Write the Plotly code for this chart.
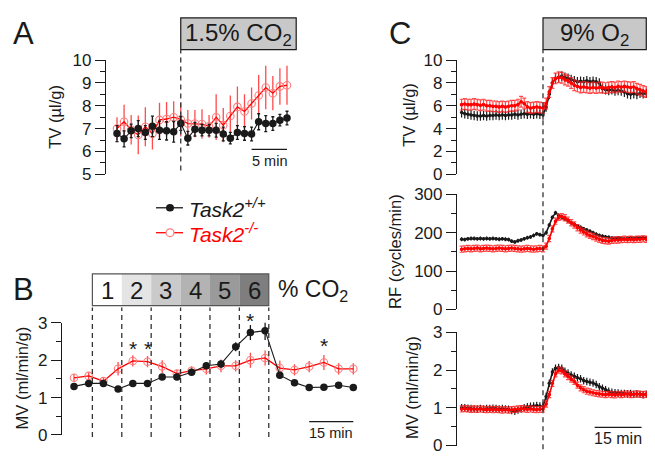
import plotly.graph_objects as go

W, H = 655, 460
OFF = 8  # page body margin of the html page

# ---------------- Panel A : TV during 1.5% CO2 ----------------
a_time = list(range(-9, 16))
a_tv_wt = [6.78, 6.55, 6.9, 7.0, 6.83, 7.1, 6.93, 6.9, 6.86, 7.22, 6.58, 6.97, 6.93,
           6.93, 6.93, 6.76, 6.58, 6.83, 6.79, 6.76, 7.3, 7.22, 7.22, 7.37, 7.46]
a_tv_wt_err = [0.35, 0.35, 0.3, 0.35, 0.3, 0.45, 0.4, 0.4, 0.45, 0.3, 0.3, 0.3, 0.25,
               0.25, 0.3, 0.3, 0.25, 0.3, 0.3, 0.3, 0.35, 0.35, 0.3, 0.25, 0.3]
a_tv_ko = [7.0, 7.3, 6.95, 6.72, 7.08, 6.78, 7.38, 7.42, 7.5, 7.4, 7.22, 7.22, 7.2,
           7.1, 7.5, 7.15, 7.55, 7.95, 7.75, 8.1, 8.45, 8.8, 8.55, 8.85, 8.9]
a_tv_ko_err = [0.5, 0.75, 0.65, 0.85, 0.85, 0.7, 0.75, 0.75, 0.7, 0.75, 0.6, 0.6, 0.65,
               0.5, 1.0, 0.75, 0.9, 0.9, 0.75, 0.7, 0.9, 0.95, 0.75, 0.8, 0.85]

# ---------------- Panel B : MV, graded CO2 ----------------
b_time = [0, 5, 10, 15, 20, 25, 30, 35, 40, 45, 50, 55, 60, 65, 70, 75, 80, 85, 90, 95]
b_mv_wt = [1.3, 1.38, 1.38, 1.23, 1.38, 1.38, 1.55, 1.55, 1.68, 1.85, 1.9, 2.36, 2.74,
           2.79, 1.6, 1.4, 1.27, 1.28, 1.33, 1.27]
b_mv_wt_err = [0.05, 0.05, 0.05, 0.05, 0.05, 0.05, 0.05, 0.06, 0.08, 0.08, 0.1, 0.12,
               0.2, 0.25, 0.08, 0.06, 0.05, 0.05, 0.05, 0.05]
b_mv_ko = [1.53, 1.58, 1.44, 1.77, 1.98, 1.96, 1.83, 1.64, 1.72, 1.77, 1.85, 1.85, 2.0,
           2.06, 1.79, 1.74, 1.83, 1.94, 1.77, 1.77]
b_mv_ko_err = [0.1, 0.1, 0.1, 0.18, 0.15, 0.15, 0.17, 0.1, 0.12, 0.15, 0.17, 0.15, 0.2,
               0.2, 0.2, 0.15, 0.15, 0.2, 0.15, 0.15]
b_co2_levels = ["1", "2", "3", "4", "5", "6"]
b_level_edges = [6.25, 16.25, 26.25, 36.25, 46.25, 56.25, 66.25]
b_level_colors = ["#ffffff", "#e4e4e4", "#cacaca", "#b3b3b3", "#9a9a9a", "#7e7e7e"]
b_star_times = [20, 25, 60, 85]
b_star_values = [2.3, 2.3, 3.05, 2.4]

# ---------------- Panel C : 9% O2 hypoxia ----------------
c_time = list(range(-26, 34))
c_tv_wt = [5.4, 5.3, 5.25, 5.2, 5.15, 5.1, 5.1, 5.15, 5.1, 5.15, 5.15, 5.2, 5.15, 5.2,
           5.15, 5.2, 5.2, 5.25, 5.2, 5.25, 5.3, 5.25, 5.3, 5.25, 5.3, 5.25, 5.2,
           5.9, 7.0, 8.0, 8.4, 8.5, 8.6, 8.5, 8.4, 8.3, 8.2, 8.1, 8.15, 8.1, 8.2, 8.1,
           8.15, 8.1, 8.0, 7.5, 7.4, 7.35, 7.4, 7.3, 7.35, 7.3, 7.2, 7.05, 7.0, 7.05,
           7.0, 7.1, 7.05, 7.1]
c_tv_ko = [6.1, 6.15, 6.1, 6.1, 6.15, 6.1, 6.05, 6.1, 6.0, 6.0, 5.95, 5.95, 5.9, 5.95,
           5.9, 5.95, 6.0, 6.0, 6.1, 6.35, 6.2, 5.9, 5.8, 5.85, 5.9, 5.85, 5.8,
           6.2, 7.2, 8.0, 8.4, 8.5, 8.45, 8.3, 8.2, 8.0, 7.8, 7.7, 7.6, 7.65, 7.6, 7.55,
           7.6, 7.55, 7.6, 7.6, 7.55, 7.6, 7.65, 7.6, 7.7, 7.65, 7.7, 7.65, 7.6, 7.65,
           7.5, 7.4, 7.3, 7.2]
c_rf_wt = [183, 182, 184, 185, 185, 184, 185, 184, 185, 184, 185, 184, 183, 184, 183,
           182, 178, 176, 179, 181, 184, 187, 189, 193, 197, 195, 193,
           200, 220, 240, 252, 245, 240, 236, 231, 226, 222, 218, 214, 210, 207, 204,
           200, 196, 193, 191, 189, 188, 186, 185, 186, 185, 184, 185, 186, 185, 186,
           186, 187, 186]
c_rf_ko = [157, 158, 159, 158, 159, 160, 158, 159, 160, 159, 158, 159, 160, 159, 158,
           159, 160, 159, 158, 157, 158, 159, 158, 157, 158, 159, 158,
           165, 185, 210, 230, 240, 242, 239, 233, 226, 220, 213, 207, 202, 197, 193,
           190, 186, 183, 180, 179, 178, 180, 181, 181, 182, 183, 182, 183, 182, 183,
           183, 184, 183]
c_mv_wt = [1.0, 1.0, 0.99, 0.98, 0.97, 0.97, 0.98, 0.97, 0.98, 0.98, 0.99, 0.98, 0.97,
           0.98, 0.97, 0.96, 0.93, 0.91, 0.94, 0.97, 1.0, 1.03, 1.04, 1.05, 1.06, 1.05,
           1.04, 1.3, 1.65, 1.95, 2.05, 2.07, 2.05, 1.97, 1.92, 1.87, 1.84, 1.8, 1.77,
           1.72, 1.7, 1.68, 1.66, 1.62, 1.56, 1.52, 1.48, 1.44, 1.41, 1.4, 1.39, 1.38,
           1.38, 1.37, 1.38, 1.36, 1.37, 1.36, 1.35, 1.36]
c_mv_ko = [0.97, 0.98, 0.97, 0.96, 0.97, 0.96, 0.97, 0.96, 0.95, 0.96, 0.95, 0.96, 0.95,
           0.94, 0.95, 0.94, 0.95, 0.96, 0.97, 0.98, 0.97, 0.96, 0.97, 0.96, 0.95, 0.96,
           0.97, 1.1, 1.35, 1.65, 1.9, 2.0, 1.98, 1.9, 1.83, 1.76, 1.7, 1.6, 1.53, 1.48,
           1.44, 1.42, 1.4, 1.38, 1.37, 1.36, 1.35, 1.36, 1.35, 1.34, 1.36, 1.35, 1.36,
           1.37, 1.35, 1.36, 1.37, 1.36, 1.35, 1.36]
c_tv_wt_err, c_tv_ko_err = 0.42, 0.47
c_rf_wt_err, c_rf_ko_err = 5, 8
c_mv_wt_err, c_mv_ko_err = 0.1, 0.08

series_names = ["Task2<sup>+/+</sup>", "Task2<sup>-/-</sup>"]

# ---------------- styling ----------------
FONT = "Arial, Liberation Sans, Helvetica, sans-serif"
INK = "#1a1a1a"
BLACK = "#1a1a1a"
RED = "#ff0000"
RED_ERR = "rgba(255,30,30,0.8)"
RED_MK = "#ff7a7a"
DASH = "5px,4px"
TICK_SIZE = 17
TITLE_SIZE = 16.5


def px(x):
    return (x - OFF) / W


def py(y):
    return 1 - (y - OFF) / H


fig = go.Figure()


def err_spec(err, color, cap):
    if isinstance(err, list):
        return dict(type="data", array=err, color=color, thickness=1.3, width=cap)
    return dict(type="constant", value=err, color=color, thickness=1.2, width=cap)


def add_series(x, y, err, xa, ya, kind, big=True, cap=0):
    if kind == "wt":
        fig.add_trace(go.Scatter(
            x=x, y=y, xaxis=xa, yaxis=ya, mode="lines+markers", name=series_names[0],
            line=dict(color=BLACK, width=1.1 if big else 1.6),
            marker=dict(color=BLACK, size=7.5 if big else 3.5, line=dict(width=0)),
            error_y=err_spec(err, BLACK, cap), showlegend=False, cliponaxis=False))
    else:
        fig.add_trace(go.Scatter(
            x=x, y=y, xaxis=xa, yaxis=ya, mode="lines+markers", name=series_names[1],
            line=dict(color=RED, width=1.3 if big else 1.6),
            marker=dict(symbol="circle-open" if big else "circle",
                        color=RED_MK if big else RED,
                        size=7.5 if big else 2.5,
                        line=dict(width=1.1, color=RED_MK if big else RED)),
            error_y=err_spec(err, RED_ERR, cap), showlegend=False, cliponaxis=False))


# Panel A (red under black)
add_series(a_time, a_tv_ko, a_tv_ko_err, "x", "y", "ko")
add_series(a_time, a_tv_wt, a_tv_wt_err, "x", "y", "wt", cap=1.5)
# Panel B
add_series(b_time, b_mv_ko, b_mv_ko_err, "x2", "y2", "ko")
add_series(b_time, b_mv_wt, b_mv_wt_err, "x2", "y2", "wt")
# Panel C
add_series(c_time, c_tv_wt, c_tv_wt_err, "x3", "y3", "wt", big=False)
add_series(c_time, c_tv_ko, c_tv_ko_err, "x3", "y3", "ko", big=False, cap=2)
add_series(c_time, c_rf_wt, c_rf_wt_err, "x4", "y4", "wt", big=False)
add_series(c_time, c_rf_ko, c_rf_ko_err, "x4", "y4", "ko", big=False, cap=2)
add_series(c_time, c_mv_wt, c_mv_wt_err, "x5", "y5", "wt", big=False)
add_series(c_time, c_mv_ko, c_mv_ko_err, "x5", "y5", "ko", big=False, cap=2)


def yax(dom_px, rng, dtick, mdtick, anchor):
    return dict(domain=[py(dom_px[0]), py(dom_px[1])], range=rng, showline=True,
                linecolor=INK, linewidth=1.2, ticks="outside", ticklen=10, tickwidth=1.2,
                tickcolor=INK, dtick=dtick, tick0=0, showgrid=False, zeroline=False,
                tickfont=dict(family=FONT, size=TICK_SIZE, color=INK), anchor=anchor,
                minor=dict(ticks="outside", ticklen=5, tickwidth=1.2, tickcolor=INK,
                           dtick=mdtick, showgrid=False),
                fixedrange=True)


def xax(dom_px, rng, anchor):
    return dict(domain=[px(dom_px[0]), px(dom_px[1])], range=rng, visible=False,
                fixedrange=True, anchor=anchor)


fig.update_layout(
    width=W, height=H, margin=dict(l=0, r=0, t=0, b=0),
    paper_bgcolor="white", plot_bgcolor="rgba(0,0,0,0)",
    font=dict(family=FONT, color=INK),
    xaxis=xax((106, 300), [-10.553, 16.836], "y"),
    yaxis=yax((172, 53), [5, 10], 1, 0.5, "x"),
    xaxis2=xax((62, 360), [-4.082, 97.28], "y2"),
    yaxis2=yax((444, 327), [0, 3], 1, 0.5, "x2"),
    xaxis3=xax((457, 650), [-27.48, 34.19], "y3"),
    yaxis3=yax((172, 53), [0, 10], 2, 1, "x3"),
    xaxis4=xax((457, 650), [-27.48, 34.19], "y4"),
    yaxis4=yax((313, 193), [0, 300], 100, 50, "x4"),
    xaxis5=xax((457, 650), [-27.48, 34.19], "y5"),
    yaxis5=yax((455, 337), [0, 3], 1, 0.5, "x5"),
)

shapes = []
# Panel A stimulus box, dashed line, scale bar
shapes.append(dict(type="rect", xref="x", yref="paper", x0=0, x1=16.3, y0=py(42), y1=py(9),
                   fillcolor="#c8c8c8", line=dict(color=INK, width=1.2), layer="below"))
shapes.append(dict(type="line", xref="x", yref="paper", x0=0, x1=0, y0=py(168), y1=py(42),
                   line=dict(color="#333", width=1.3, dash=DASH)))
shapes.append(dict(type="line", xref="x", yref="paper", x0=10, x1=15, y0=py(146), y1=py(146),
                   line=dict(color=INK, width=1.3)))
# Panel B CO2 cells
for i in range(6):
    shapes.append(dict(type="rect", xref="x2", yref="paper", x0=b_level_edges[i],
                       x1=b_level_edges[i + 1], y0=py(309), y1=py(276),
                       fillcolor=b_level_colors[i], line=dict(width=0), layer="below"))
shapes.append(dict(type="rect", xref="x2", yref="paper", x0=b_level_edges[0],
                   x1=b_level_edges[-1], y0=py(309), y1=py(276),
                   line=dict(color="#555", width=1.2)))
for e in b_level_edges:
    shapes.append(dict(type="line", xref="x2", yref="paper", x0=e, x1=e, y0=py(446), y1=py(311),
                       line=dict(color="#333", width=1.3, dash=DASH)))
shapes.append(dict(type="line", xref="x2", yref="paper", x0=80, x1=95, y0=py(430), y1=py(430),
                   line=dict(color=INK, width=1.3)))
# Panel C stimulus box, dashed line, scale bar
shapes.append(dict(type="rect", xref="x3", yref="paper", x0=0, x1=33, y0=py(42), y1=py(9),
                   fillcolor="#c8c8c8", line=dict(color=INK, width=1.2), layer="below"))
shapes.append(dict(type="line", xref="x3", yref="paper", x0=0, x1=0, y0=py(459), y1=py(42),
                   line=dict(color="#333", width=1.3, dash=DASH)))
shapes.append(dict(type="line", xref="x5", yref="paper", x0=16.5, x1=31.5, y0=py(436),
                   y1=py(436), line=dict(color=INK, width=1.3)))
# Legend samples
shapes.append(dict(type="line", xref="paper", yref="paper", x0=px(156), x1=px(183),
                   y0=py(207), y1=py(207), line=dict(color=BLACK, width=1.3)))
shapes.append(dict(type="circle", xref="paper", yref="paper", x0=px(166), x1=px(174),
                   y0=py(211), y1=py(203), fillcolor=BLACK, line=dict(width=0)))
shapes.append(dict(type="line", xref="paper", yref="paper", x0=px(156), x1=px(183),
                   y0=py(233), y1=py(233), line=dict(color=RED, width=1.3)))
shapes.append(dict(type="circle", xref="paper", yref="paper", x0=px(166), x1=px(174),
                   y0=py(237), y1=py(229), fillcolor="white", line=dict(color=RED_MK, width=1.2)))
fig.update_layout(shapes=shapes)

ann = []


def txt(x, y, s, size, xa="left", ya="middle", angle=0, color=INK, xref="paper", yref="paper"):
    ann.append(dict(x=x, y=y, xref=xref, yref=yref, text=s, showarrow=False, xanchor=xa,
                    yanchor=ya, textangle=angle, font=dict(family=FONT, size=size, color=color)))


# B axis mapping for stars (value -> paper)
b_dom = fig.layout.yaxis2.domain


def b_val_to_paper(v):
    return b_dom[0] + (b_dom[1] - b_dom[0]) * v / 3.0


# panel letters
txt(px(11), py(25), "A", 31)
txt(px(11), py(292), "B", 31)
txt(px(387), py(25), "C", 31)
# stimulus boxes
txt(8.15, py(26), "1.5% CO<sub>2</sub>", 24, xa="center", xref="x")
txt(16.5, py(26), "9% O<sub>2</sub>", 24, xa="center", xref="x3")
# CO2 levels
for i, lab in enumerate(b_co2_levels):
    txt((b_level_edges[i] + b_level_edges[i + 1]) / 2, py(293), lab, 24, xa="center", xref="x2")
txt(px(276), py(293), "% CO<sub>2</sub>", 23)
# y-axis titles
txt(px(55), py(112), "TV (µl/g)", TITLE_SIZE, xa="center", angle=-90)
txt(px(22), py(385), "MV (ml/min/g)", TITLE_SIZE, xa="center", angle=-90)
txt(px(409), py(110), "TV (µl/g)", TITLE_SIZE, xa="center", angle=-90)
txt(px(395), py(253), "RF (cycles/min)", TITLE_SIZE, xa="center", angle=-90)
txt(px(412), py(395), "MV (ml/min/g)", TITLE_SIZE, xa="center", angle=-90)
# scale bar labels
txt(12.5, py(158), "5 min", 14.5, xa="center", xref="x")
txt(87.5, py(442), "15 min", 14.5, xa="center", xref="x2")
txt(24, py(448), "15 min", 16, xa="center", xref="x5")
# significance stars
for t, v in zip(b_star_times, b_star_values):
    txt(t, b_val_to_paper(v), "*", 21, xa="center", xref="x2", yref="paper")
# legend text
txt(px(187), py(207), "<i>" + series_names[0] + "</i>", 21, color=INK)
txt(px(187), py(233), "<i>" + series_names[1] + "</i>", 21, color=RED)
fig.update_layout(annotations=ann)

fig.write_html("out.html")
